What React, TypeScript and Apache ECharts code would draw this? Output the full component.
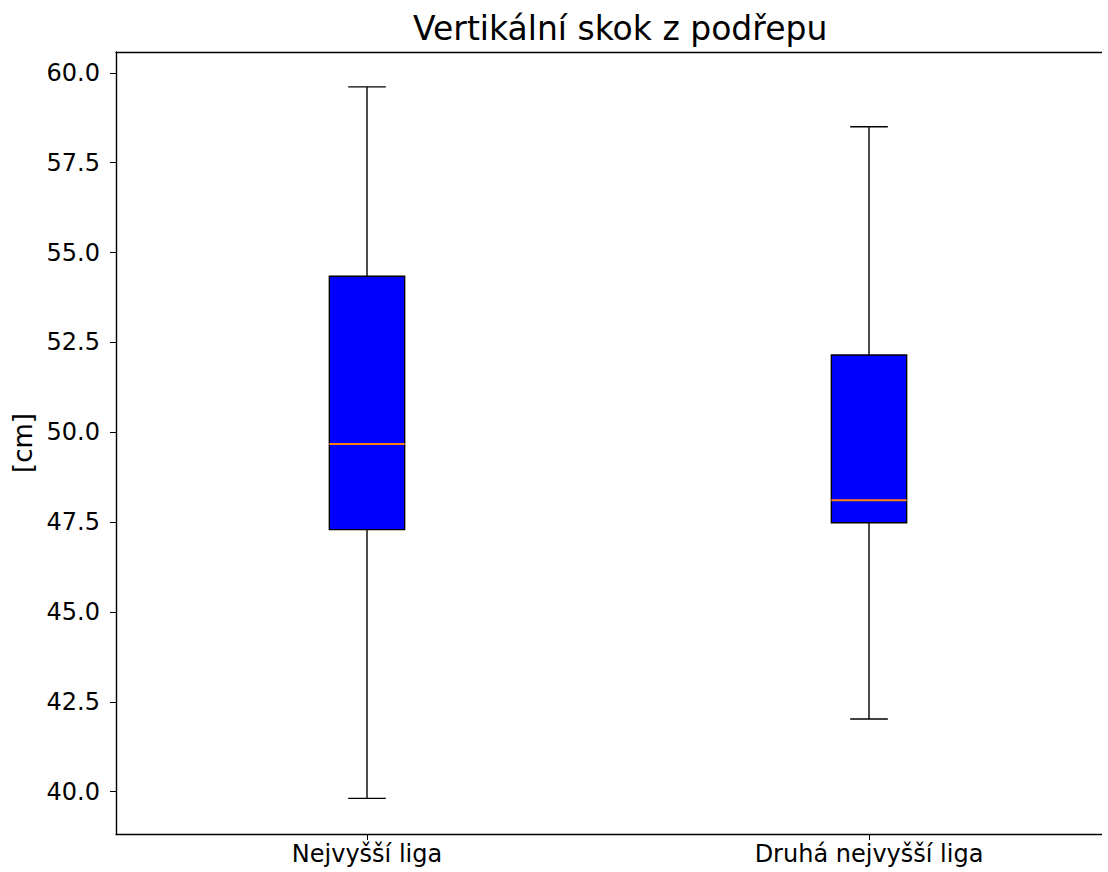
import React, { useEffect, useRef } from "react";
import * as echarts from "echarts";

const titleText = "Vertikální skok z podřepu";
const yAxisName = "[cm]";
const categories = ["Nejvyšší liga", "Druhá nejvyšší liga"];
const minVals = [39.81, 42.02];
const q1Vals = [47.29, 47.48];
const medianVals = [49.67, 48.11];
const q3Vals = [54.34, 52.15];
const maxVals = [59.61, 58.5];
const yTicks = [40, 42.5, 45, 47.5, 50, 52.5, 55, 57.5, 60];
const yMin = 38.82;
const yMax = 60.58;

const FONT = "DejaVu Sans";

export default function App() {
  const ref = useRef<HTMLDivElement>(null);
  useEffect(() => {
    if (!ref.current) return;
    const chart = echarts.init(ref.current, undefined, { renderer: "svg" });
    const data = categories.map((_, i) => [i, minVals[i], q1Vals[i], medianVals[i], q3Vals[i], maxVals[i]]);
    const lw = 1.4;
    chart.setOption({
      animation: false,
      backgroundColor: "#ffffff",
      title: {
        text: titleText,
        left: 408,
        top: 7,
        textStyle: { fontFamily: FONT, fontSize: 33, fontWeight: "normal", color: "#000" },
      },
      grid: {
        left: 116,
        top: 52,
        width: 1004,
        height: 782,
        show: false,
      },
      xAxis: [
        {
          type: "category",
          data: categories,
          boundaryGap: true,
          axisLine: { show: true, lineStyle: { color: "#000", width: lw } },
          axisTick: { show: true, alignWithLabel: true, length: 6, lineStyle: { color: "#000", width: 1 } },
          axisLabel: { fontFamily: FONT, fontSize: 24, color: "#000", margin: 8 },
          splitLine: { show: false },
        },
        {
          type: "category",
          data: categories,
          position: "top",
          boundaryGap: true,
          axisLine: { show: true, lineStyle: { color: "#000", width: lw } },
          axisTick: { show: false },
          axisLabel: { show: false },
          splitLine: { show: false },
        },
      ],
      yAxis: {
        type: "value",
        min: yMin,
        max: yMax,
        name: yAxisName,
        nameLocation: "middle",
        nameRotate: 90,
        nameGap: 78,
        nameTextStyle: { fontFamily: FONT, fontSize: 26, color: "#000" },
        axisLine: { show: true, lineStyle: { color: "#000", width: lw } },
        axisTick: { show: true, length: 6, customValues: yTicks, lineStyle: { color: "#000", width: 1 } },
        axisLabel: {
          customValues: yTicks,
          fontFamily: FONT,
          fontSize: 24,
          color: "#000",
          margin: 16,
          formatter: (v: number) => v.toFixed(1),
        },
        splitLine: { show: false },
      },
      series: [
        {
          type: "custom",
          xAxisIndex: 0,
          data,
          encode: { x: 0, y: [1, 2, 3, 4, 5] },
          renderItem: (params: any, api: any) => {
            const idx = api.value(0);
            const band = api.size([1, 0])[0];
            const boxW = band * 0.15;
            const capW = boxW / 2;
            const pMin = api.coord([idx, api.value(1)]);
            const pQ1 = api.coord([idx, api.value(2)]);
            const pMed = api.coord([idx, api.value(3)]);
            const pQ3 = api.coord([idx, api.value(4)]);
            const pMax = api.coord([idx, api.value(5)]);
            const cx = pMed[0];
            const stroke = { stroke: "#000", lineWidth: lw };
            return {
              type: "group",
              children: [
                { type: "line", shape: { x1: cx, y1: pQ3[1], x2: cx, y2: pMax[1] }, style: stroke },
                { type: "line", shape: { x1: cx, y1: pQ1[1], x2: cx, y2: pMin[1] }, style: stroke },
                { type: "line", shape: { x1: cx - capW / 2, y1: pMax[1], x2: cx + capW / 2, y2: pMax[1] }, style: stroke },
                { type: "line", shape: { x1: cx - capW / 2, y1: pMin[1], x2: cx + capW / 2, y2: pMin[1] }, style: stroke },
                {
                  type: "rect",
                  shape: { x: cx - boxW / 2, y: pQ3[1], width: boxW, height: pQ1[1] - pQ3[1] },
                  style: { fill: "#0000ff", stroke: "#000", lineWidth: lw },
                },
                {
                  type: "line",
                  shape: { x1: cx - boxW / 2, y1: pMed[1], x2: cx + boxW / 2, y2: pMed[1] },
                  style: { stroke: "#ff7f0e", lineWidth: 2 },
                },
              ],
            };
          },
        },
      ],
    });
    return () => chart.dispose();
  }, []);
  return (
    <div style={{ position: "fixed", left: 0, top: 0, width: 1102, height: 872, overflow: "hidden", background: "#fff" }}>
      <div ref={ref} style={{ position: "absolute", left: 0, top: 0, width: 1300, height: 872 }} />
    </div>
  );
}
